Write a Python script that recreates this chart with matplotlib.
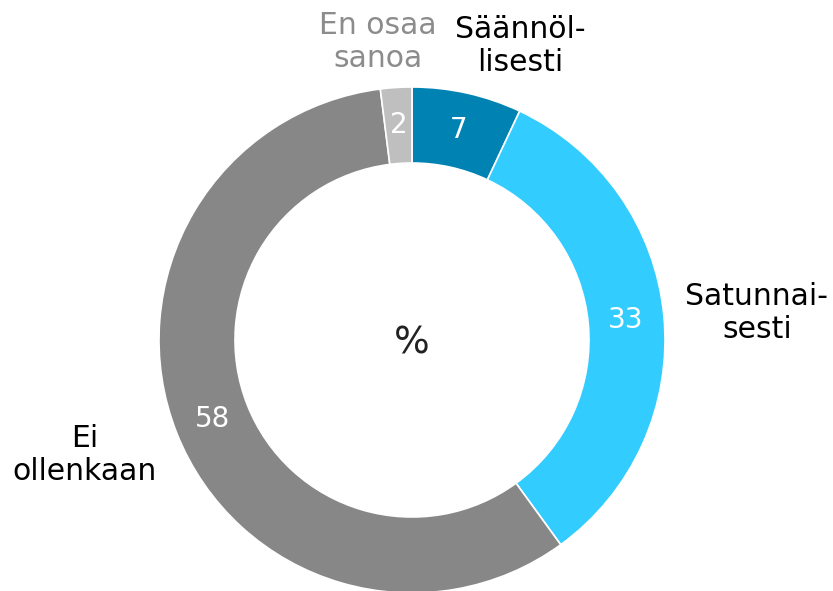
import matplotlib
matplotlib.use("Agg")
import matplotlib.pyplot as plt
import numpy as np

# Data (clockwise from top)
categories = ["Säännöl-\nlisesti", "Satunnai-\nsesti", "Ei\nollenkaan", "En osaa\nsanoa"]
values = [7, 33, 58, 2]
colors = ["#0083B3", "#33CCFF", "#878787", "#BFBFBF"]
label_colors = ["#000000", "#000000", "#000000", "#8C8C8C"]

# category label positions in pixel coords (x, y from top)
label_pos = [(520, 46), (757, 313), (85, 455), (378, 42)]

W, H = 833, 591
fig = plt.figure(figsize=(W / 100, H / 100), dpi=100)
ax = fig.add_axes([0, 0, 1, 1])

cx, cy = 412, H - 340
r_out = 253
width = 76

wedges, _ = ax.pie(
    values, colors=colors, startangle=90, counterclock=False,
    center=(cx, cy), radius=r_out, frame=True,
    wedgeprops=dict(width=width, edgecolor="white", linewidth=1.2),
)
ax.set_xlim(0, W)
ax.set_ylim(0, H)
ax.set_aspect("equal")
ax.axis("off")

# value labels at the ring middle
r_mid = r_out - width / 2
for w, v in zip(wedges, values):
    ang = np.deg2rad((w.theta1 + w.theta2) / 2)
    ax.text(cx + r_mid * np.cos(ang), cy + r_mid * np.sin(ang), str(v),
            color="white", fontsize=20, ha="center", va="center")

for lab, (x, y), c in zip(categories, label_pos, label_colors):
    ax.text(x, H - y, lab, color=c, fontsize=21.5, ha="center", va="center",
            linespacing=1.15)

ax.text(cx, cy - 4, "%", fontsize=27, ha="center", va="center", color="#222222")

fig.savefig("out.png", dpi=100)
